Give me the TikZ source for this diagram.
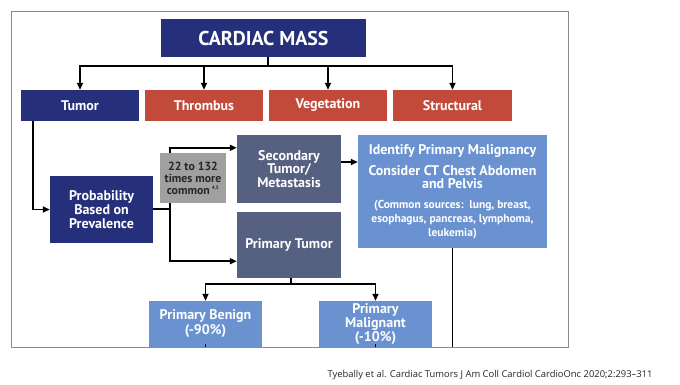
\documentclass[tikz,border=0pt]{standalone}
\usepackage{fontspec}
\setmainfont{PT Sans}
\newfontfamily\capfont{Open Sans}
\usetikzlibrary{arrows.meta,calc}
\definecolor{navy}{RGB}{38,48,122}
\definecolor{brick}{RGB}{194,74,58}
\definecolor{slate}{RGB}{86,96,128}
\definecolor{skyb}{RGB}{106,146,208}
\definecolor{midgray}{RGB}{160,160,160}
\definecolor{framegray}{RGB}{140,140,140}
\begin{document}
\begin{tikzpicture}[x=1pt,y=-1pt,
  box/.style={inner sep=0pt,align=center,text=white,font=\bfseries\fontsize{14}{13.8}\selectfont},
  conn/.style={line width=1.6pt,black},
  arr/.style={conn,-{Triangle[length=7pt,width=6pt]}}]
\useasboundingbox (0,0) rectangle (680,384);
\fill[white] (0,0) rectangle (680,384);
\draw[framegray,line width=1pt] (11.5,11) rectangle (568,347);
% nodes
\node[box,fill=navy,minimum width=205pt,minimum height=38pt,font=\bfseries\fontsize{20}{22}\selectfont] (title) at (263.5,38) {CARDIAC MASS};
\node[box,fill=navy,minimum width=118pt,minimum height=31pt] (tumor) at (80,105.5) {Tumor};
\node[box,fill=brick,minimum width=118pt,minimum height=31pt] (thrombus) at (204,105.5) {Thrombus};
\node[box,fill=brick,minimum width=118pt,minimum height=31pt] (vegetation) at (328,105.5) {Vegetation};
\node[box,fill=brick,minimum width=119pt,minimum height=31pt] (structural) at (452.5,105.5) {Structural};
\node[box,fill=navy,minimum width=103pt,minimum height=67pt] (prob) at (101.5,209.5) {Probability\\Based on\\Prevalence};
\node[box,fill=slate,minimum width=104pt,minimum height=68pt] (secondary) at (289,169) {Secondary\\Tumor/\\Metastasis};
\node[box,fill=slate,minimum width=104pt,minimum height=66pt] (primary) at (289,245) {Primary Tumor};
\node[box,fill=skyb,minimum width=189pt,minimum height=113pt] (identify) at (452.5,191.5) {Identify Primary Malignancy\\[7pt]Consider CT Chest Abdomen\\and Pelvis\\[6pt]{\fontsize{11.5}{11.5}\selectfont (Common sources:\ \ lung, breast,}\\{\fontsize{11.5}{11.5}\selectfont esophagus, pancreas, lymphoma,}\\{\fontsize{11.5}{11.5}\selectfont leukemia)}};
\node[box,fill=skyb,minimum width=113pt,minimum height=46pt,font=\bfseries\fontsize{14}{15}\selectfont] (benign) at (205.5,324) {Primary Benign\\(-90\%)};
\node[box,fill=skyb,minimum width=113pt,minimum height=46pt] (malignant) at (375.5,324) {Primary\\Malignant\\(-10\%)};
% connectors
\coordinate (hub) at (268,66);
\draw[conn] (title.south -| hub) -- (hub);
\draw[arr] (hub) -| (tumor.north);
\draw[arr] (hub) -| (thrombus.north);
\draw[arr] (hub) -| (vegetation.north);
\draw[arr] (hub) -| (structural.north);
\draw[arr] ($(tumor.south west)+(12,0)$) |- (prob.west);
\coordinate (split) at (170,209);
\draw[conn] (prob.east |- split) -- (split);
\draw[arr] (split) |- ($(secondary.north west)+(0,13)$);
\draw[arr] (split) |- ($(primary.south west)+(0,-17)$);
\draw[arr] ($(secondary.east)+(0,-7)$) -- ($(secondary.east -| identify.west)+(0,-7)$);
\coordinate (fb) at (0,347);
\draw[conn] (identify.south) -- (identify.south |- fb);
\coordinate (hubb) at (291,284);
\draw[conn] (primary.south -| hubb) -- (hubb);
\draw[arr] (hubb) -| (benign.north);
\draw[arr] (hubb) -| (malignant.north);
\draw[conn] ($(benign.south)+(0,-3)$) -- (benign.south);
\draw[conn] ($(malignant.south)+(0,-3)$) -- (malignant.south);
% ratio box drawn over the connector
\node[box,fill=midgray,text={black!85},minimum width=66pt,minimum height=50pt,font=\bfseries\fontsize{11.8}{12}\selectfont] (ratio) at (193,178) {22 to 132\\times more\\common\,\textsuperscript{\fontsize{5}{5}\selectfont 4,5}};
\node[font=\capfont\fontsize{9.4}{11}\selectfont,text=black!85,inner sep=0pt] (caption) at (490,375) {Tyebally et al. Cardiac Tumors J Am Coll Cardiol CardioOnc 2020;2:293–311};
\end{tikzpicture}
\end{document}
